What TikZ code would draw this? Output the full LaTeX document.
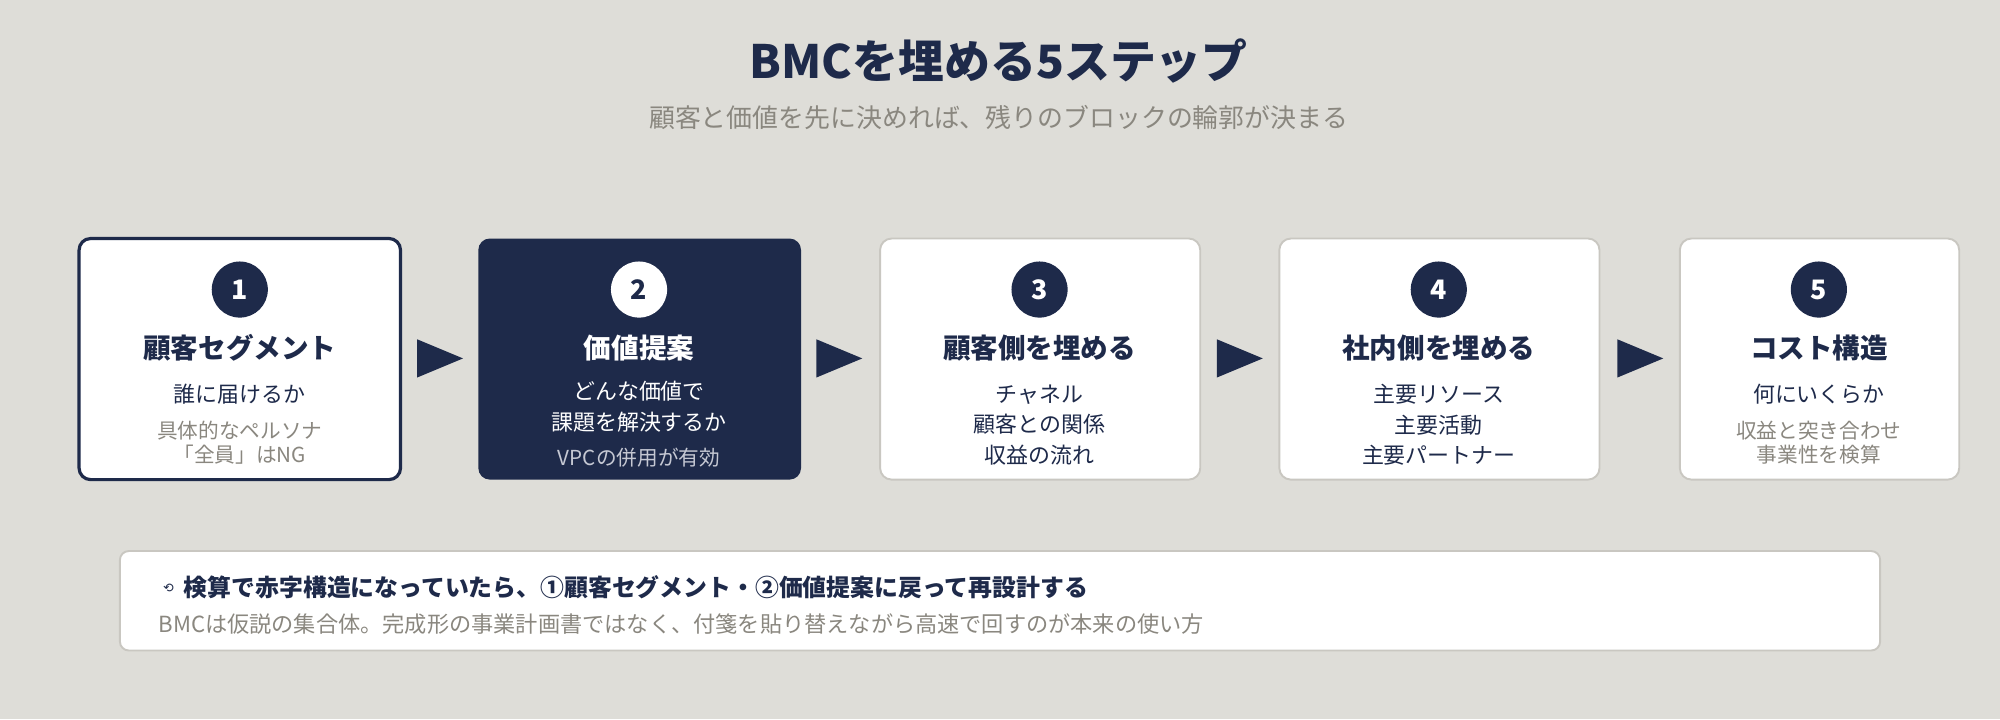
\documentclass[tikz,border=0pt]{standalone}
\usepackage{fontspec}
\setmainfont{Noto Sans CJK JP}
\newfontfamily\dvs{DejaVu Sans}
\begin{document}
\definecolor{bg}{HTML}{DEDDD8}
\definecolor{navy}{HTML}{1E2A4A}
\definecolor{gtx}{HTML}{8A877F}
\definecolor{bord}{HTML}{C9C7C1}
\definecolor{lgt}{HTML}{C5C8D3}
\begin{tikzpicture}[x=1pt,y=-1pt,
  box/.style={draw=bord,line width=1.5pt,fill=white,rounded corners=9pt},
  num/.style={circle,fill=navy,text=white,minimum size=44pt,inner sep=0,font=\bfseries\fontsize{21}{21}\selectfont},
  ttl/.style={text=navy,font=\bfseries\fontsize{21.6}{22}\selectfont},
  bd/.style={text=navy,font=\fontsize{17.2}{24}\selectfont,align=center},
  gr/.style={text=gtx,font=\fontsize{16.2}{19}\selectfont,align=center},
  arr/.style={fill=navy}]
\fill[bg] (0,0) rectangle (1568,564);
\useasboundingbox (0,0) rectangle (1568,564);
\node[text=navy,font=\bfseries\fontsize{36}{36}\selectfont] (t) at (783,48) {BMCを埋める5ステップ};
\node[text=gtx,font=\fontsize{20.3}{21}\selectfont] (st) at (783,92) {顧客と価値を先に決めれば、残りのブロックの輪郭が決まる};
% boxes
\draw[box,draw=navy,line width=2.5pt] (62,187) rectangle (314,376);
\fill[navy,rounded corners=9pt] (375,187) rectangle (628,376);
\draw[box] (690,187) rectangle (941,376);
\draw[box] (1003,187) rectangle (1254,376);
\draw[box] (1317,187) rectangle (1536,376);
% arrows
\foreach \c in {345,658,972,1286}{\fill[arr] (\c-18,266)--(\c+18,281)--(\c-18,296)--cycle;}
% box1
\node[num] (n1) at (188,227) {1};
\node[ttl] (h1) at (188,273) {顧客セグメント};
\node[bd] (b1) at (188,309) {誰に届けるか};
\node[gr] (g1) at (188,347) {具体的なペルソナ\\「全員」はNG};
% box2
\node[num,fill=white,text=navy] (n2) at (501,227) {2};
\node[ttl,text=white] (h2) at (501,273) {価値提案};
\node[bd,text=white] (b2) at (501,319) {どんな価値で\\課題を解決するか};
\node[gr,text=lgt] (g2) at (501,359) {VPCの併用が有効};
% box3
\node[num] (n3) at (815,227) {3};
\node[ttl] (h3) at (815,273) {顧客側を埋める};
\node[bd] (b3) at (815,333) {チャネル\\顧客との関係\\収益の流れ};
% box4
\node[num] (n4) at (1128,227) {4};
\node[ttl] (h4) at (1128,273) {社内側を埋める};
\node[bd] (b4) at (1128,333) {主要リソース\\主要活動\\主要パートナー};
% box5
\node[num] (n5) at (1426,227) {5};
\node[ttl] (h5) at (1426,273) {コスト構造};
\node[bd] (b5) at (1426,309) {何にいくらか};
\node[gr] (g5) at (1426,347) {収益と突き合わせ\\事業性を検算};
% bottom
\draw[box,rounded corners=7pt] (94,432) rectangle (1474,510);
\node[text=navy,font=\dvs\fontsize{10}{10}\selectfont] (ic) at (132,461) {⟲};
\node[anchor=west,text=navy,font=\bfseries\fontsize{18.7}{19}\selectfont,inner sep=0] (bt) at (144,460) {検算で赤字構造になっていたら、①顧客セグメント・②価値提案に戻って再設計する};
\node[anchor=west,text=gtx,font=\fontsize{17.4}{18}\selectfont,inner sep=0] (bs) at (124,489) {BMCは仮説の集合体。完成形の事業計画書ではなく、付箋を貼り替えながら高速で回すのが本来の使い方};
\end{tikzpicture}
\end{document}
